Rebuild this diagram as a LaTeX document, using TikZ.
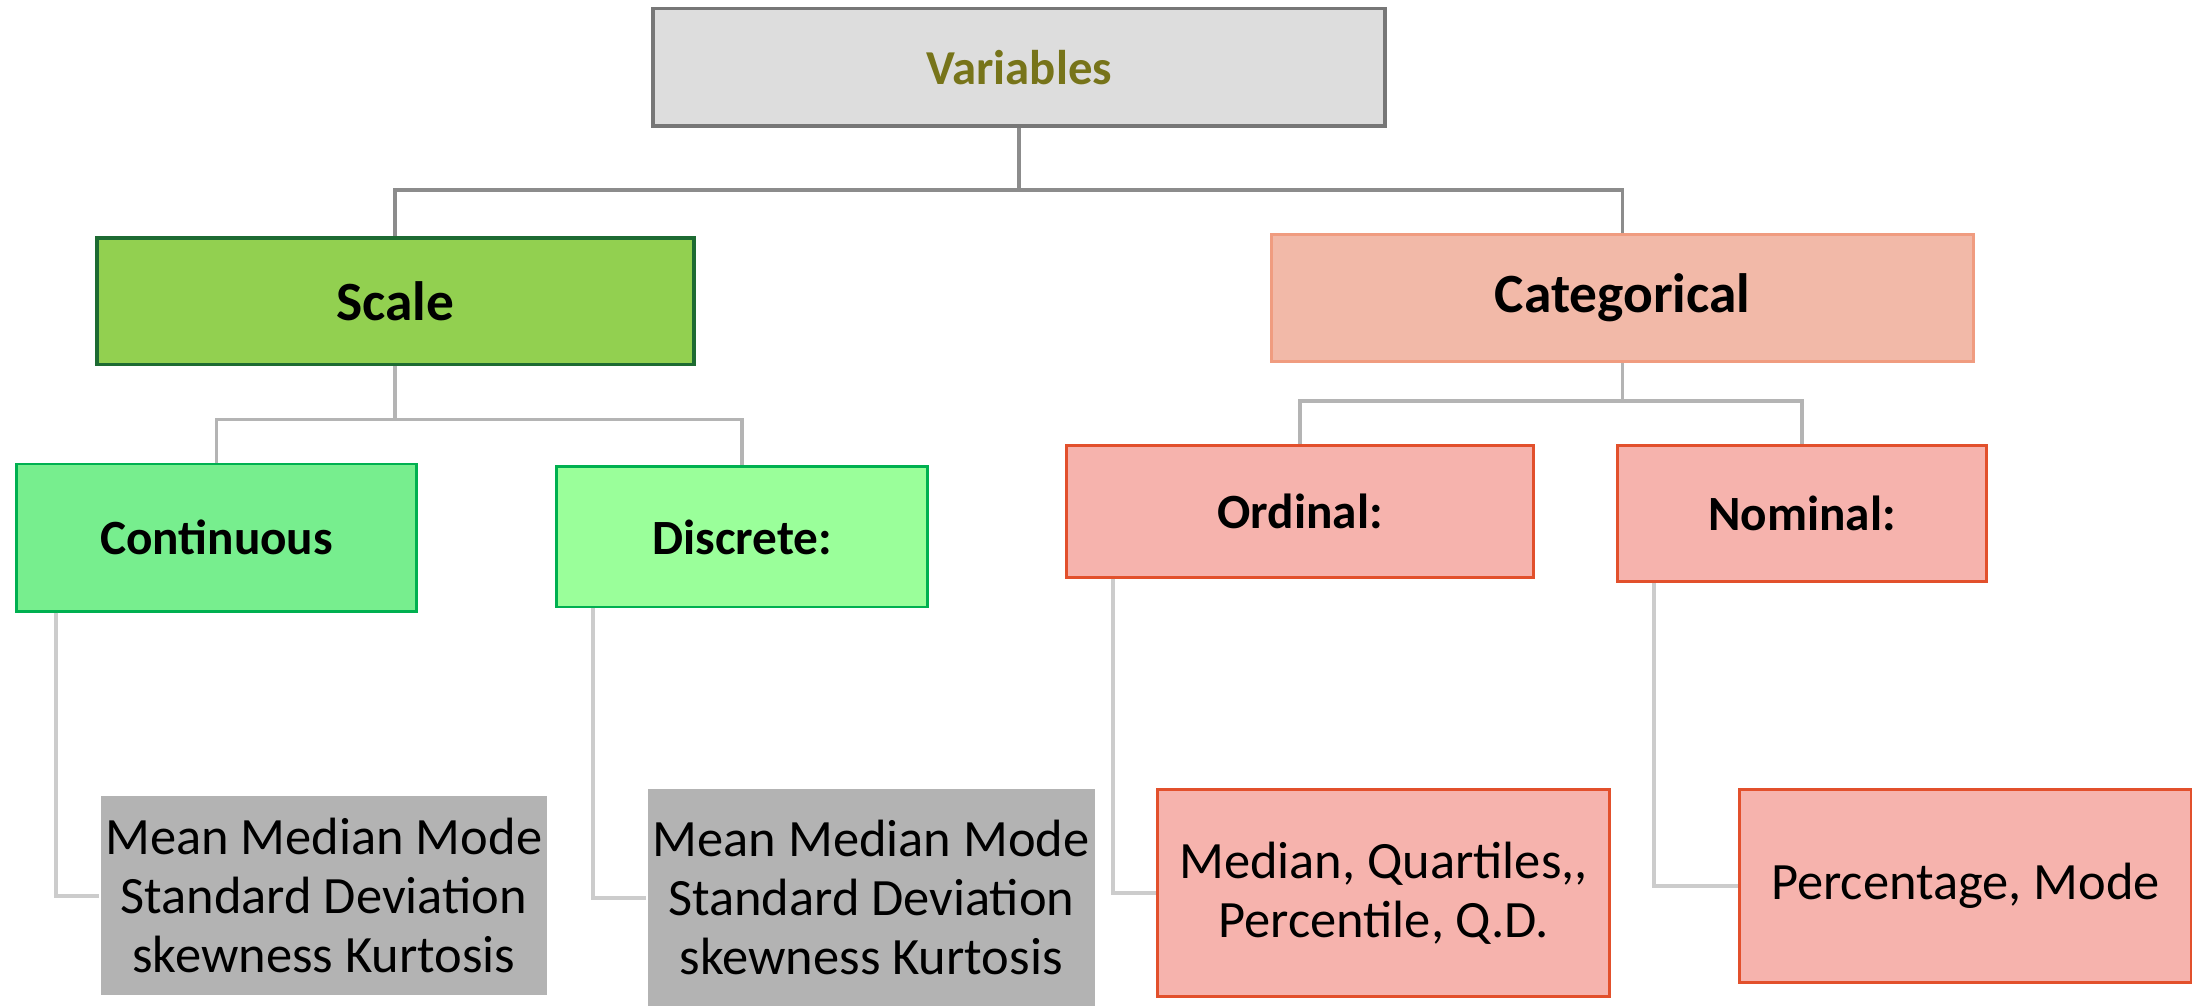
\documentclass[tikz,border=0pt]{standalone}
\usepackage{fontspec}
\setmainfont{Carlito}
\usepackage{xcolor}
\usepackage{tikz}

\definecolor{topfill}{HTML}{DDDDDD}
\definecolor{topline}{HTML}{777777}
\definecolor{toptext}{HTML}{77741A}
\definecolor{scalefill}{HTML}{92D050}
\definecolor{scaleline}{HTML}{1D6B32}
\definecolor{contfill}{HTML}{77EE8E}
\definecolor{discfill}{HTML}{9AFF9A}
\definecolor{greenline}{HTML}{00B050}
\definecolor{catfill}{HTML}{F2B9A8}
\definecolor{catline}{HTML}{F09C80}
\definecolor{pinkfill}{HTML}{F6B3AD}
\definecolor{redline}{HTML}{E2502C}
\definecolor{leafgray}{HTML}{B3B3B3}
\definecolor{darklink}{HTML}{8C8C8C}
\definecolor{midlink}{HTML}{B4B4B4}
\definecolor{lightlink}{HTML}{CCCCCC}

\begin{document}
\begin{tikzpicture}
[x=0.02cm, y=-0.02cm,
box/.style={rectangle,draw,line width=1.2pt,align=center,inner sep=0pt},
head/.style={box,font=\fontsize{22.5}{27}\selectfont\bfseries},
sub/.style={box,font=\fontsize{20}{24}\selectfont\bfseries},
leaf/.style={box,font=\fontsize{21.3}{24}\selectfont},
link/.style={midlink,line width=1.5pt},
leafline/.style={lightlink,line width=1.5pt}]
\useasboundingbox (0,0) rectangle (1568,718);

% top level
\node[box,fill=topfill,draw=topline,line width=1.5pt,text=toptext,font=\fontsize{19.8}{24}\selectfont\bfseries,minimum width=10.44cm,minimum height=1.68cm] (vars) at (727,48) {Variables};

\node[head,fill=scalefill,draw=scaleline,line width=1.5pt,minimum width=8.52cm,minimum height=1.8cm] (scale) at (282,215) {Scale};
\node[head,fill=catfill,draw=catline,minimum width=10.02cm,minimum height=1.82cm] (cat) at (1157.5,212.5) {Categorical};

\node[sub,fill=contfill,draw=greenline,minimum width=5.7cm,minimum height=2.1cm] (cont) at (154.5,383.5) {Continuous};
\node[sub,fill=discfill,draw=greenline,minimum width=5.3cm,minimum height=2cm] (disc) at (529.5,383) {Discrete:};
\node[sub,fill=pinkfill,draw=redline,minimum width=6.66cm,minimum height=1.88cm] (ord) at (927.5,365) {Ordinal:};
\node[sub,fill=pinkfill,draw=redline,minimum width=5.26cm,minimum height=1.94cm] (nom) at (1285.5,366.5) {Nominal:};

% measures
\node[leaf,fill=leafgray,draw=none,minimum width=6.36cm,minimum height=2.84cm] (contm) at (231,639) {Mean Median Mode\\Standard Deviation\\skewness Kurtosis};
\node[leaf,fill=leafgray,draw=none,minimum width=6.38cm,minimum height=3.1cm] (discm) at (621.5,640.5) {Mean Median Mode\\Standard Deviation\\skewness Kurtosis};
\node[leaf,fill=pinkfill,draw=redline,minimum width=6.44cm,minimum height=2.96cm] (ordm) at (987,637) {Median, Quartiles,{},\\Percentile, Q.D.};
\node[leaf,fill=pinkfill,draw=redline,minimum width=6.44cm,minimum height=2.76cm] (nomm) at (1402,632) {Percentage, Mode};

% connectors
\draw[link,darklink] (vars.south) -- ++(0,44) coordinate (vj) -| (scale.north);
\draw[link,darklink] (vj) -| (cat.north);
\draw[link] (scale.south) -- ++(0,38) coordinate (sj) -| (cont.north);
\draw[link] (sj) -| (disc.north);
\draw[link] (cat.south) -- ++(0,27) coordinate (cj) -| (ord.north);
\draw[link] (cj) -| (nom.north);

\draw[leafline] (cont.south west) ++(29,0) |- (contm.west);
\draw[leafline] (disc.south west) ++(27,0) |- (discm.west);
\draw[leafline] (ord.south west) ++(34,0) |- (ordm.west);
\draw[leafline] (nom.south west) ++(27,0) |- (nomm.west);
\end{tikzpicture}
\end{document}
